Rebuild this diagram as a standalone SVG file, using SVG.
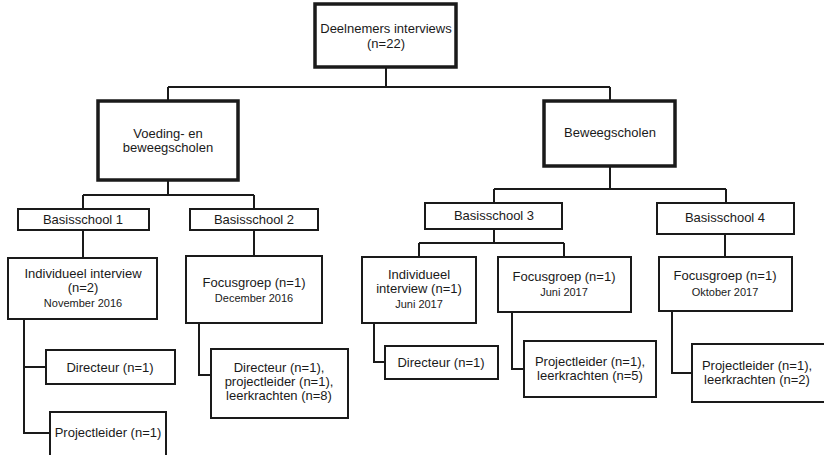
<svg xmlns="http://www.w3.org/2000/svg" width="824" height="455" viewBox="0 0 824 455">
<style>
rect{fill:#fff;stroke:#1a1a1a;stroke-width:2}
rect.thick{stroke-width:3.5}
text{font-family:"Liberation Sans",Arial,sans-serif;font-size:13px;fill:#1a1a1a;text-anchor:middle}
text.s{font-size:11px}
#connectors path{fill:none;stroke:#1a1a1a;stroke-width:2}
</style>
<rect x="0" y="0" width="824" height="455" style="fill:#fff;stroke:none"/>
<g id="connectors">
<path d="M386 67V87M168 87H610M168 87V101M610 87V101"/>
<path d="M168 180V195M83 195H254M83 195V209M254 195V209"/>
<path d="M610 166V189M494 189H726M494 189V203M726 189V203"/>
<path d="M83 230V258M254 230V256"/>
<path d="M494 229V243M419 243H564M419 243V257M564 243V257"/>
<path d="M725 234V257"/>
<path d="M24 319V433H50M24 367H46"/>
<path d="M199 323V375H211"/>
<path d="M374 323V362H385"/>
<path d="M512 312V369H524"/>
<path d="M672 311V373H692"/>
</g>
<g id="n-top"><rect class="thick" x="315" y="4" width="141" height="63"/><text x="386" y="33">Deelnemers interviews</text><text x="386" y="48">(n=22)</text></g>
<g id="n-voeding"><rect class="thick" x="98" y="101" width="140" height="79"/><text x="168" y="138">Voeding- en</text><text x="168" y="152">beweegscholen</text></g>
<g id="n-beweeg"><rect class="thick" x="544" y="101" width="131" height="65"/><text x="610" y="137">Beweegscholen</text></g>
<g id="n-bs1"><rect x="18" y="209" width="131" height="21"/><text x="83" y="224">Basisschool 1</text></g>
<g id="n-bs2"><rect x="190" y="209" width="128" height="21"/><text x="254" y="224">Basisschool 2</text></g>
<g id="n-bs3"><rect x="425" y="203" width="137" height="26"/><text x="494" y="220">Basisschool 3</text></g>
<g id="n-bs4"><rect x="657" y="203" width="137" height="31"/><text x="725" y="222">Basisschool 4</text></g>
<g id="n-ind1"><rect x="8" y="258" width="149" height="61"/><text x="83" y="278">Individueel interview</text><text x="83" y="292">(n=2)</text><text class="s" x="83" y="307">November 2016</text></g>
<g id="n-fg2"><rect x="186" y="256" width="136" height="67"/><text x="254" y="287">Focusgroep (n=1)</text><text class="s" x="254" y="302">December 2016</text></g>
<g id="n-ind3"><rect x="362" y="257" width="114" height="66"/><text x="419" y="279">Individueel</text><text x="419" y="293">interview (n=1)</text><text class="s" x="419" y="308">Juni 2017</text></g>
<g id="n-fg3"><rect x="498" y="257" width="133" height="55"/><text x="564" y="281">Focusgroep (n=1)</text><text class="s" x="564" y="296">Juni 2017</text></g>
<g id="n-fg4"><rect x="659" y="257" width="133" height="54"/><text x="725" y="280">Focusgroep (n=1)</text><text class="s" x="725" y="296">Oktober 2017</text></g>
<g id="n-dir1"><rect x="46" y="350" width="129" height="34"/><text x="110" y="372">Directeur (n=1)</text></g>
<g id="n-pl1"><rect x="50" y="412" width="116" height="50"/><text x="108" y="437">Projectleider (n=1)</text></g>
<g id="n-dpl2"><rect x="211" y="349" width="137" height="69"/><text x="279" y="372">Directeur (n=1),</text><text x="279" y="386">projectleider (n=1),</text><text x="279" y="400">leerkrachten (n=8)</text></g>
<g id="n-dir3"><rect x="385" y="346" width="113" height="33"/><text x="441" y="367">Directeur (n=1)</text></g>
<g id="n-pl3"><rect x="524" y="341" width="132" height="56"/><text x="590" y="366">Projectleider (n=1),</text><text x="590" y="380">leerkrachten (n=5)</text></g>
<g id="n-pl4"><rect x="692" y="344" width="140" height="58"/><text x="757" y="370">Projectleider (n=1),</text><text x="757" y="384">leerkrachten (n=2)</text></g>
</svg>
